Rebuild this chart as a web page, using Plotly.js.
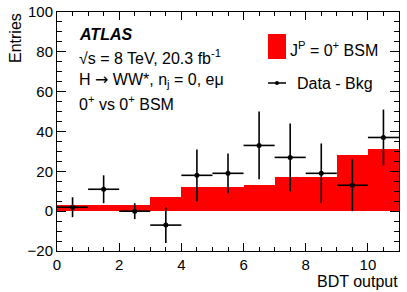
<!DOCTYPE html>
<html>
<head>
<meta charset="utf-8">
<script src="https://cdn.plot.ly/plotly-3.0.1.min.js"></script>
<style>html,body{margin:0;padding:0;background:#fff;}#chart{width:407px;height:292px;}</style>
</head>
<body>
<div id="chart"></div>
<script>
// Bin centers (BDT output)
const binCenters = [0.5, 1.5, 2.5, 3.5, 4.5, 5.5, 6.5, 7.5, 8.5, 9.5, 10.5];
// J^P = 0+ BSM expected histogram
const bsmValues = [3, 3, 3, 7, 12, 12, 13, 17, 17, 28, 31];
// Data - Bkg points and errors
const dataValues = [2, 11, 0, -7, 18, 19, 33, 27, 19, 13, 37];
const dataErrors = [5, 7, 4, 9, 13, 10, 17, 17, 15, 13, 14];
const binHalfWidth = [0.5, 0.5, 0.5, 0.5, 0.5, 0.5, 0.5, 0.5, 0.5, 0.5, 0.5];

const FONT = 'Liberation Sans, Arial, Helvetica, sans-serif';

const traces = [
  {
    type: 'bar', x: binCenters, y: bsmValues, width: 1,
    marker: {color: '#ff0000', line: {width: 0}},
    name: 'J<sup>P</sup> = 0<sup>+</sup> BSM', showlegend: false, hoverinfo: 'skip'
  },
  {
    type: 'scatter', mode: 'markers', x: binCenters, y: dataValues,
    marker: {color: '#000', size: 5},
    error_y: {type: 'data', array: dataErrors, visible: true, color: '#000', thickness: 1.6, width: 0},
    error_x: {type: 'data', array: binHalfWidth, visible: true, color: '#000', thickness: 1.6, width: 0},
    name: 'Data - Bkg', showlegend: false
  }
];

const L = 57, R = 399, T = 12, B = 251;
const W = R - L, H = B - T;
const px = v => (v - L) / W;
const py = v => (B - v) / H;

const layout = {
  width: 407, height: 292,
  margin: {l: L, r: 407 - R, t: T, b: 292 - B},
  paper_bgcolor: '#fff', plot_bgcolor: '#fff',
  font: {family: FONT, size: 16, color: '#000'},
  bargap: 0,
  showlegend: false,
  xaxis: {
    range: [0, 11], tick0: 0, dtick: 2, ticks: 'inside', ticklen: 8, tickwidth: 1, tickcolor: '#000',
    showline: true, linecolor: '#000', linewidth: 1, mirror: 'ticks', showgrid: false, zeroline: false,
    tickfont: {family: FONT, size: 15},
    minor: {dtick: 0.5, ticks: 'inside', ticklen: 4, tickcolor: '#000', showgrid: false}
  },
  yaxis: {
    range: [-20, 100], tick0: 0, dtick: 20, ticks: 'inside', ticklen: 9, tickwidth: 1, tickcolor: '#000',
    showline: true, linecolor: '#000', linewidth: 1, mirror: 'ticks', showgrid: false, zeroline: false,
    tickfont: {family: FONT, size: 15},
    minor: {dtick: 5, ticks: 'inside', ticklen: 5, tickcolor: '#000', showgrid: false}
  },
  shapes: [
    {type: 'rect', xref: 'paper', yref: 'paper', x0: px(268), x1: px(286), y0: py(59), y1: py(34),
     fillcolor: '#ff0000', line: {width: 0}},
    {type: 'line', xref: 'paper', yref: 'paper', x0: px(268), x1: px(286), y0: py(83), y1: py(83),
     line: {color: '#000', width: 1.5}},
    {type: 'circle', xref: 'paper', yref: 'paper', x0: px(275), x1: px(279), y0: py(85), y1: py(81),
     fillcolor: '#000', line: {width: 0}}
  ],
  annotations: [
    {text: 'Entries', xref: 'paper', yref: 'paper', x: px(15), y: py(11), textangle: -90,
     xanchor: 'center', yanchor: 'top', showarrow: false, font: {size: 16}},
    {text: 'BDT output', xref: 'paper', yref: 'paper', x: px(400), y: py(281), xanchor: 'right', yanchor: 'middle',
     showarrow: false, font: {size: 16}},
    {text: '<b><i>ATLAS</i></b>', xref: 'paper', yref: 'paper', x: px(77), y: py(34), xanchor: 'left', yanchor: 'middle',
     showarrow: false, font: {size: 16}},
    {text: '√s = 8 TeV, 20.3 fb<sup>-1</sup>', xref: 'paper', yref: 'paper', x: px(77), y: py(57), xanchor: 'left', yanchor: 'middle',
     showarrow: false, font: {size: 16}},
    {text: 'H <span style="font-family:DejaVu Sans">→</span> WW*, n<sub>j</sub> = 0, eμ', xref: 'paper', yref: 'paper', x: px(77), y: py(80), xanchor: 'left', yanchor: 'middle',
     showarrow: false, font: {size: 16}},
    {text: '0<sup>+</sup> vs 0<sup>+</sup> BSM', xref: 'paper', yref: 'paper', x: px(77), y: py(103), xanchor: 'left', yanchor: 'middle',
     showarrow: false, font: {size: 16}},
    {text: 'J<sup>P</sup> = 0<sup>+</sup> BSM', xref: 'paper', yref: 'paper', x: px(288), y: py(49), xanchor: 'left', yanchor: 'middle',
     showarrow: false, font: {size: 16}},
    {text: 'Data - Bkg', xref: 'paper', yref: 'paper', x: px(295), y: py(83), xanchor: 'left', yanchor: 'middle',
     showarrow: false, font: {size: 16}}
  ]
};

Plotly.newPlot('chart', traces, layout, {displayModeBar: false, staticPlot: true});
</script>
</body>
</html>
